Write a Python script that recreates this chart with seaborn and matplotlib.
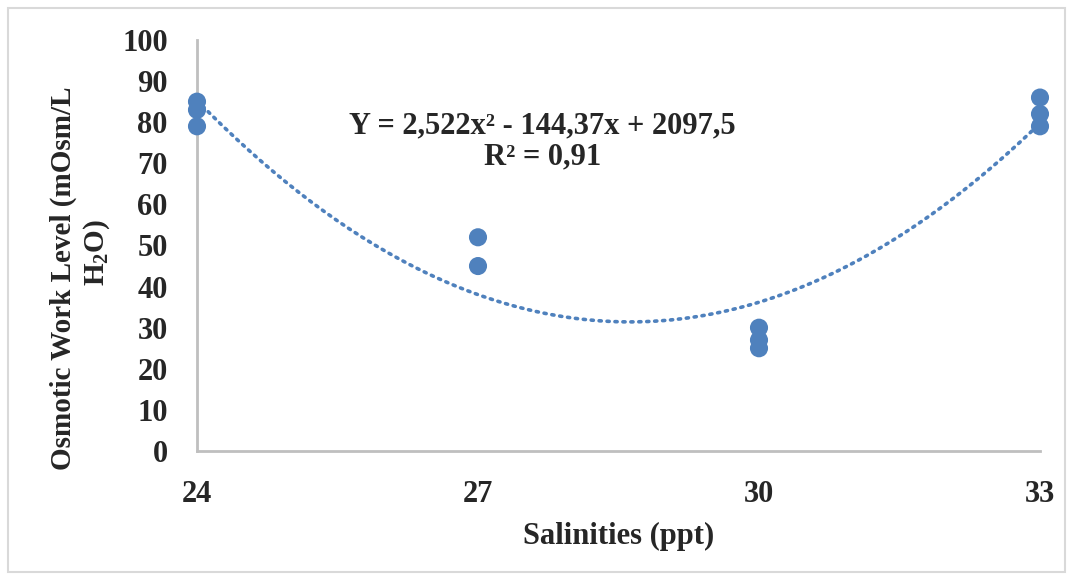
import numpy as np
import pandas as pd
import matplotlib
matplotlib.use("Agg")
import matplotlib.pyplot as plt
import seaborn as sns

# data
salinity = [24, 24, 24, 27, 27, 30, 30, 30, 33, 33, 33]
osmotic = [85, 83, 79, 52, 45, 30, 27, 25, 86, 82, 79]
# trendline coefficients shown on the chart
coef = [2.522, -144.37, 2097.5]
x_ticks = [24, 27, 30, 33]
y_ticks = [0, 10, 20, 30, 40, 50, 60, 70, 80, 90, 100]

df = pd.DataFrame({"salinity": salinity, "osmotic": osmotic})

sns.set_style("white")
plt.rcParams["font.family"] = ["Liberation Serif", "DejaVu Serif"]
plt.rcParams["font.weight"] = "bold"
plt.rcParams["mathtext.fontset"] = "custom"
plt.rcParams["mathtext.rm"] = "Liberation Serif:bold"
plt.rcParams["mathtext.it"] = "Liberation Serif:bold"
plt.rcParams["mathtext.bf"] = "Liberation Serif:bold"

blue = "#4f81bd"

fig = plt.figure(figsize=(10.73, 5.8), dpi=100)
ax = fig.add_axes([197 / 1073, 1 - 451 / 580, (1040 - 197) / 1073, (451 - 40) / 580])

# trendline
xs = np.linspace(24, 33, 200)
trend = pd.DataFrame({"x": xs, "y": np.polyval(coef, xs)})
sns.lineplot(data=trend, x="x", y="y", ax=ax, color=blue, linestyle=(0, (0.6, 1.6)),
             linewidth=2.6, dash_capstyle="round", clip_on=False)

sns.scatterplot(data=df, x="salinity", y="osmotic", ax=ax, color=blue, s=170,
                edgecolor="none", clip_on=False, zorder=3)

ax.set_xlim(24, 33)
ax.set_ylim(0, 100)
ax.set_xticks(x_ticks)
ax.set_yticks(y_ticks)
ax.tick_params(axis="both", length=0, labelsize=22)
ax.tick_params(axis="x", pad=21)
ax.tick_params(axis="y", pad=21)
for lab in ax.get_xticklabels() + ax.get_yticklabels():
    lab.set_fontweight("bold")

for side in ["top", "right"]:
    ax.spines[side].set_visible(False)
for side in ["left", "bottom"]:
    ax.spines[side].set_color("#bfbfbf")
    ax.spines[side].set_linewidth(2)

ax.set_xlabel("Salinities (ppt)", fontsize=22, fontweight="bold", labelpad=9)
ax.set_ylabel("")
fig.text(63 / 1073, 1 - 278 / 580, "Osmotic Work Level (mOsm/L", rotation=90,
         ha="center", va="center", fontsize=21, fontweight="bold")
fig.text(97 / 1073, 1 - 253 / 580, r"H$_2$O)", rotation=90,
         ha="center", va="center", fontsize=21, fontweight="bold")

ax.text(0.41, 0.754, "Y = 2,522x² - 144,37x + 2097,5\nR² = 0,91", transform=ax.transAxes,
        ha="center", va="center", fontsize=22, fontweight="bold", linespacing=1.1)

# outer chart border
fig.patches.append(plt.Rectangle((8 / 1073, 8 / 580), 1 - 16 / 1073, 1 - 16 / 580,
                                 transform=fig.transFigure, fill=False,
                                 edgecolor="#d9d9d9", linewidth=1.5))

fig.savefig("out.png", dpi=100)
